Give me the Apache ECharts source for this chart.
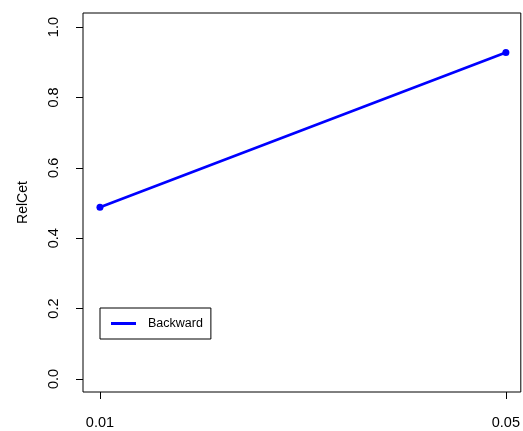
<!DOCTYPE html>
<html>
<head>
<meta charset="utf-8">
<script src="https://cdn.jsdelivr.net/npm/echarts@6/dist/echarts.min.js"></script>
<style>
html,body{margin:0;padding:0;background:#fff;}
#chart{width:523px;height:431px;}
</style>
</head>
<body>
<div id="chart"></div>
<script>
const xValues = [0.01, 0.05];
const relCet = [0.488, 0.928];
const xTicks = [0.01, 0.05];
const yTicks = [0.0, 0.2, 0.4, 0.6, 0.8, 1.0];
const seriesName = 'Backward';
const yName = 'RelCet';

const FONT = '"Liberation Sans", Arial, Helvetica, sans-serif';
const chart = echarts.init(document.getElementById('chart'), null, {renderer: 'canvas'});
chart.setOption({
  animation: false,
  backgroundColor: '#ffffff',
  grid: {
    left: 83, right: 1, top: 13, bottom: 39,
    show: true, borderColor: '#000', borderWidth: 1, backgroundColor: 'transparent'
  },
  legend: {
    left: 100, top: 308,
    orient: 'vertical',
    data: [{name: seriesName, icon: 'rect'}],
    itemWidth: 25, itemHeight: 3, itemGap: 0,
    borderColor: '#000', borderWidth: 1, borderRadius: 0,
    padding: [8, 8, 8, 11],
    textStyle: {fontFamily: FONT, fontSize: 12.5, color: '#000', padding: [0, 0, 0, 7], lineHeight: 15},
    selectedMode: false
  },
  xAxis: {
    type: 'value',
    position: 'bottom',
    min: 0.00833, max: 0.05147,
    axisLine: {show: false, onZero: false},
    splitLine: {show: false},
    axisTick: {show: true, length: 7, inside: false, lineStyle: {color: '#000', width: 1}, customValues: xTicks},
    axisLabel: {
      customValues: xTicks,
      formatter: v => v.toFixed(2),
      fontFamily: FONT, fontSize: 14.5, color: '#000', margin: 23
    }
  },
  yAxis: {
    type: 'value',
    position: 'left',
    min: -0.037, max: 1.04,
    name: yName,
    nameLocation: 'middle',
    nameRotate: 90,
    nameGap: 53,
    nameTextStyle: {fontFamily: FONT, fontSize: 14, color: '#000'},
    axisLine: {show: false, onZero: false},
    splitLine: {show: false},
    axisTick: {show: true, length: 7, inside: false, lineStyle: {color: '#000', width: 1}, customValues: yTicks},
    axisLabel: {
      customValues: yTicks,
      rotate: 90,
      formatter: v => v.toFixed(1),
      fontFamily: FONT, fontSize: 14.5, color: '#000', margin: 22
    }
  },
  series: [{
    name: seriesName,
    type: 'line',
    data: xValues.map((x, i) => [x, relCet[i]]),
    color: '#0000ff',
    lineStyle: {color: '#0000ff', width: 2.7},
    symbol: 'circle',
    symbolSize: 7,
    showSymbol: true,
    itemStyle: {color: '#0000ff'}
  }]
});
</script>
</body>
</html>
